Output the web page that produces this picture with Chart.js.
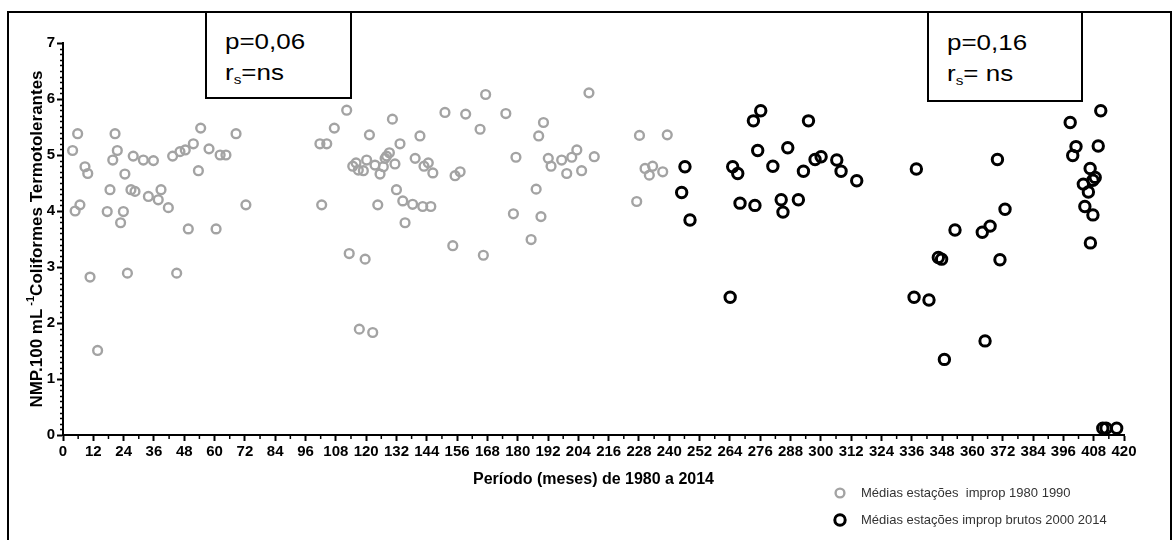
<!DOCTYPE html>
<html>
<head>
<meta charset="utf-8">
<script src="https://cdn.jsdelivr.net/npm/chart.js@4"></script>
<style>
  body { margin: 0; background: #fff; }
  #wrap { position: relative; width: 1173px; height: 540px; overflow: hidden; }
  #grafico { position: absolute; left: 0; top: 0; }
  .moldura { position: absolute; left: 7px; top: 11px; width: 1161px; height: 540px; border: 2px solid #000; pointer-events: none; }
  .caixa { position: absolute; top: 11px; border: 2px solid #000; background: #fff;
           font-family: "Liberation Sans", Arial, sans-serif; font-size: 22px; line-height: 31px; color: #000; }
  .caixa div { padding-left: 18px; }
  .caixa span { display: inline-block; transform: scaleX(1.18); transform-origin: left center; }
  .caixa sub { font-size: 13px; vertical-align: -4px; }
</style>
</head>
<body>
<div id="wrap">
  <canvas id="grafico" width="1173" height="540"></canvas>
  <div class="moldura"></div>
  <div class="caixa" style="left:205px; width:143px; padding-top:13px; height:71px;">
    <div><span>p=0,06</span></div>
    <div><span>r<sub>s</sub>=ns</span></div>
  </div>
  <div class="caixa" style="left:927px; width:152px; padding-top:14px; height:73px;">
    <div><span>p=0,16</span></div>
    <div><span>r<sub>s</sub>= ns</span></div>
  </div>
</div>
<script>
// Médias das estações impróprias 1980-1990 (mês, NMP)
const meses1980 = [3.8, 4.8, 5.8, 6.7, 8.7, 9.8, 10.7, 13.7, 17.5, 18.6, 19.7, 20.6, 21.5, 22.8, 23.9, 24.5, 25.5, 26.9,
  27.8, 28.5, 31.8, 33.8, 35.8, 37.7, 38.8, 41.7, 43.4, 45.0, 46.3, 48.4, 49.6, 51.6, 53.6, 54.5, 57.8, 60.6, 62.2, 64.5,
  68.5, 72.4, 101.7, 102.4, 104.4, 107.4, 112.3, 113.3, 114.7, 116.0, 116.9, 117.3, 118.9, 119.6, 120.2, 121.3, 122.6,
  123.5, 124.6, 125.5, 126.8, 127.5, 128.1, 129.2, 130.4, 131.4, 132.0, 133.4, 134.5, 135.4, 138.4, 139.4, 141.3, 142.4,
  142.9, 144.6, 145.6, 146.4, 151.2, 154.3, 155.2, 157.2, 159.4, 165.1, 166.4, 167.3, 175.3, 178.3, 179.3, 185.3, 187.3,
  188.3, 189.2, 190.2, 192.1, 193.2, 197.4, 199.4, 201.4, 203.4, 205.3, 208.2, 210.3, 227.1, 228.2, 230.4, 232.1, 233.4,
  237.4, 239.2];
const valores1980 = [5.08, 4.00, 5.38, 4.11, 4.79, 4.67, 2.82, 1.51, 3.99, 4.38, 4.91, 5.38, 5.08, 3.79, 3.99, 4.66, 2.89, 4.38,
  4.98, 4.35, 4.91, 4.26, 4.90, 4.20, 4.38, 4.06, 4.98, 2.89, 5.06, 5.09, 3.68, 5.20, 4.72, 5.48, 5.11, 3.68, 5.00, 5.00,
  5.38, 4.11, 5.20, 4.11, 5.20, 5.48, 5.80, 3.24, 4.80, 4.86, 4.73, 1.89, 4.72, 3.14, 4.91, 5.36, 1.83,
  4.82, 4.11, 4.66, 4.79, 4.94, 4.98, 5.04, 5.64, 4.84, 4.38, 5.20, 4.18, 3.79, 4.12, 4.94, 5.34, 4.08,
  4.80, 4.86, 4.08, 4.68, 5.76, 3.38, 4.63, 4.70, 5.73, 5.46, 3.21, 6.08, 5.74, 3.95, 4.96, 3.49, 4.39,
  5.34, 3.90, 5.58, 4.94, 4.80, 4.91, 4.67, 4.96, 5.09, 4.72, 6.11, 4.97, 4.17, 5.35, 4.76, 4.64, 4.80,
  4.70, 5.36];

// Médias das estações impróprias (brutos) 2000-2014
const meses2000 = [244.9, 246.2, 248.2, 264.1, 265.1, 267.1, 268.0, 273.3, 273.9, 275.0, 276.2, 281.0, 284.3, 285.0, 286.9,
  291.1, 293.1, 295.1, 297.7, 300.1, 306.3, 308.0, 314.2, 336.9, 337.8, 342.8, 346.5, 347.8, 348.9, 353.1, 363.9, 365.0,
  367.0, 369.9, 370.9, 372.9, 398.7, 399.7, 401.0, 403.9, 404.5, 405.9, 406.6, 406.7, 407.7, 407.7, 408.6, 409.8, 410.8,
  411.6, 412.9, 417.1];
const valores2000 = [4.33, 4.79, 3.84, 2.46, 4.79, 4.67, 4.14, 5.61, 4.10, 5.08, 5.79, 4.80, 4.20, 3.98, 5.13,
  4.20, 4.71, 5.61, 4.92, 4.97, 4.91, 4.71, 4.54, 2.46, 4.75, 2.41, 3.17, 3.14, 1.35, 3.66, 3.62, 1.68,
  3.73, 4.92, 3.13, 4.03, 5.58, 4.99, 5.15, 4.48, 4.08, 4.34, 4.76, 3.43, 3.93, 4.55, 4.60, 5.16, 5.79,
  0.12, 0.12, 0.12];

const ticksX = [0, 12, 24, 36, 48, 60, 72, 84, 96, 108, 120, 132, 144, 156, 168, 180, 192, 204, 216, 228, 240,
  252, 264, 276, 288, 300, 312, 324, 336, 348, 360, 372, 384, 396, 408, 420];
const ticksY = [0, 1, 2, 3, 4, 5, 6, 7];

const legendas = ['Médias estações  improp 1980 1990', 'Médias estações improp brutos 2000 2014'];
const tituloX = 'Período (meses) de 1980 a 2014';
const tituloY = ['NMP.100 mL', '-1', 'Coliformes Termotolerantes'];

const fonteNarrow = '"Liberation Sans Narrow", "Arial Narrow", "Liberation Sans", Arial, sans-serif';
const fonteArial = '"Liberation Sans", Arial, sans-serif';

function pontos(xs, ys) {
  return xs.map((x, i) => ({ x: x, y: ys[i] }));
}

// marcas menores dos eixos, títulos e legenda
const extras = {
  id: 'extras',
  afterDraw(chart) {
    const { ctx, scales: { x, y } } = chart;
    ctx.save();
    ctx.strokeStyle = '#000';
    ctx.lineWidth = 1.5;
    ctx.beginPath();
    for (let m = 6; m < 420; m += 12) {
      const px = x.getPixelForValue(m);
      ctx.moveTo(px, x.top);
      ctx.lineTo(px, x.top + 4);
    }
    for (let v = 0.1; v < 7; v += 0.1) {
      if (Math.abs(v - Math.round(v)) < 0.01) continue;
      const py = Math.round(y.getPixelForValue(v)) + 0.5;
      ctx.moveTo(y.right, py);
      ctx.lineTo(y.right - 3, py);
    }
    ctx.stroke();

    // título do eixo x
    ctx.fillStyle = '#000';
    ctx.font = 'bold 16px ' + fonteArial;
    ctx.textAlign = 'center';
    ctx.textBaseline = 'middle';
    ctx.fillText(tituloX, (x.left + x.right) / 2, 480);

    // título do eixo y com expoente
    ctx.translate(37, (y.top + y.bottom) / 2);
    ctx.rotate(-Math.PI / 2);
    ctx.textAlign = 'left';
    const fGrande = 'bold 17px ' + fonteArial;
    const fPequena = 'bold 11px ' + fonteArial;
    ctx.font = fGrande;
    const w1 = ctx.measureText(tituloY[0]).width;
    const w3 = ctx.measureText(tituloY[2]).width;
    ctx.font = fPequena;
    const w2 = ctx.measureText(tituloY[1]).width + 3;
    let cx = -(w1 + w2 + w3) / 2;
    ctx.font = fGrande;
    ctx.fillText(tituloY[0], cx, 0);
    cx += w1 + 3;
    ctx.font = fPequena;
    ctx.fillText(tituloY[1], cx, -6);
    cx += w2 - 3;
    ctx.font = fGrande;
    ctx.fillText(tituloY[2], cx, 0);
    ctx.restore();

    // legenda
    ctx.save();
    const linhas = [493, 520];
    chart.data.datasets.forEach((ds, i) => {
      ctx.beginPath();
      ctx.strokeStyle = ds.borderColor;
      ctx.lineWidth = ds.pointBorderWidth;
      ctx.arc(840, linhas[i], ds.pointRadius, 0, Math.PI * 2);
      ctx.stroke();
      ctx.fillStyle = '#333';
      ctx.font = '13px ' + fonteArial;
      ctx.textAlign = 'left';
      ctx.textBaseline = 'middle';
      ctx.fillText(legendas[i], 861, linhas[i]);
    });
    ctx.restore();
  }
};

new Chart(document.getElementById('grafico'), {
  type: 'scatter',
  data: {
    datasets: [
      {
        label: legendas[0],
        data: pontos(meses1980, valores1980),
        borderColor: '#a3a3a3',
        backgroundColor: 'rgba(0,0,0,0)',
        pointRadius: 4.4,
        pointBorderWidth: 2.4,
        clip: false
      },
      {
        label: legendas[1],
        data: pontos(meses2000, valores2000),
        borderColor: '#000',
        backgroundColor: 'rgba(0,0,0,0)',
        pointRadius: 5.2,
        pointBorderWidth: 3,
        clip: false
      }
    ]
  },
  options: {
    responsive: false,
    animation: false,
    devicePixelRatio: 1,
    events: [],
    layout: { padding: { top: 43, right: 49, left: 0, bottom: 0 } },
    plugins: { legend: { display: false }, tooltip: { enabled: false } },
    scales: {
      x: {
        type: 'linear',
        min: 0,
        max: 420,
        afterFit: s => { s.height = 105; },
        afterBuildTicks: s => { s.ticks = ticksX.map(v => ({ value: v })); },
        ticks: { color: '#000', font: { family: fonteNarrow, size: 15, weight: 'bold' }, maxRotation: 0, autoSkip: false, padding: 2 },
        grid: { drawOnChartArea: false, tickLength: 6, tickColor: '#000', tickWidth: 2 },
        border: { color: '#000', width: 2 }
      },
      y: {
        min: 0,
        max: 7,
        afterFit: s => { s.width = 63; },
        afterBuildTicks: s => { s.ticks = ticksY.map(v => ({ value: v })); },
        ticks: { color: '#000', font: { family: fonteNarrow, size: 15, weight: 'bold' }, padding: 2 },
        grid: { drawOnChartArea: false, tickLength: 6, tickColor: '#000', tickWidth: 2 },
        border: { color: '#000', width: 2 }
      }
    }
  },
  plugins: [extras]
});
</script>
</body>
</html>
